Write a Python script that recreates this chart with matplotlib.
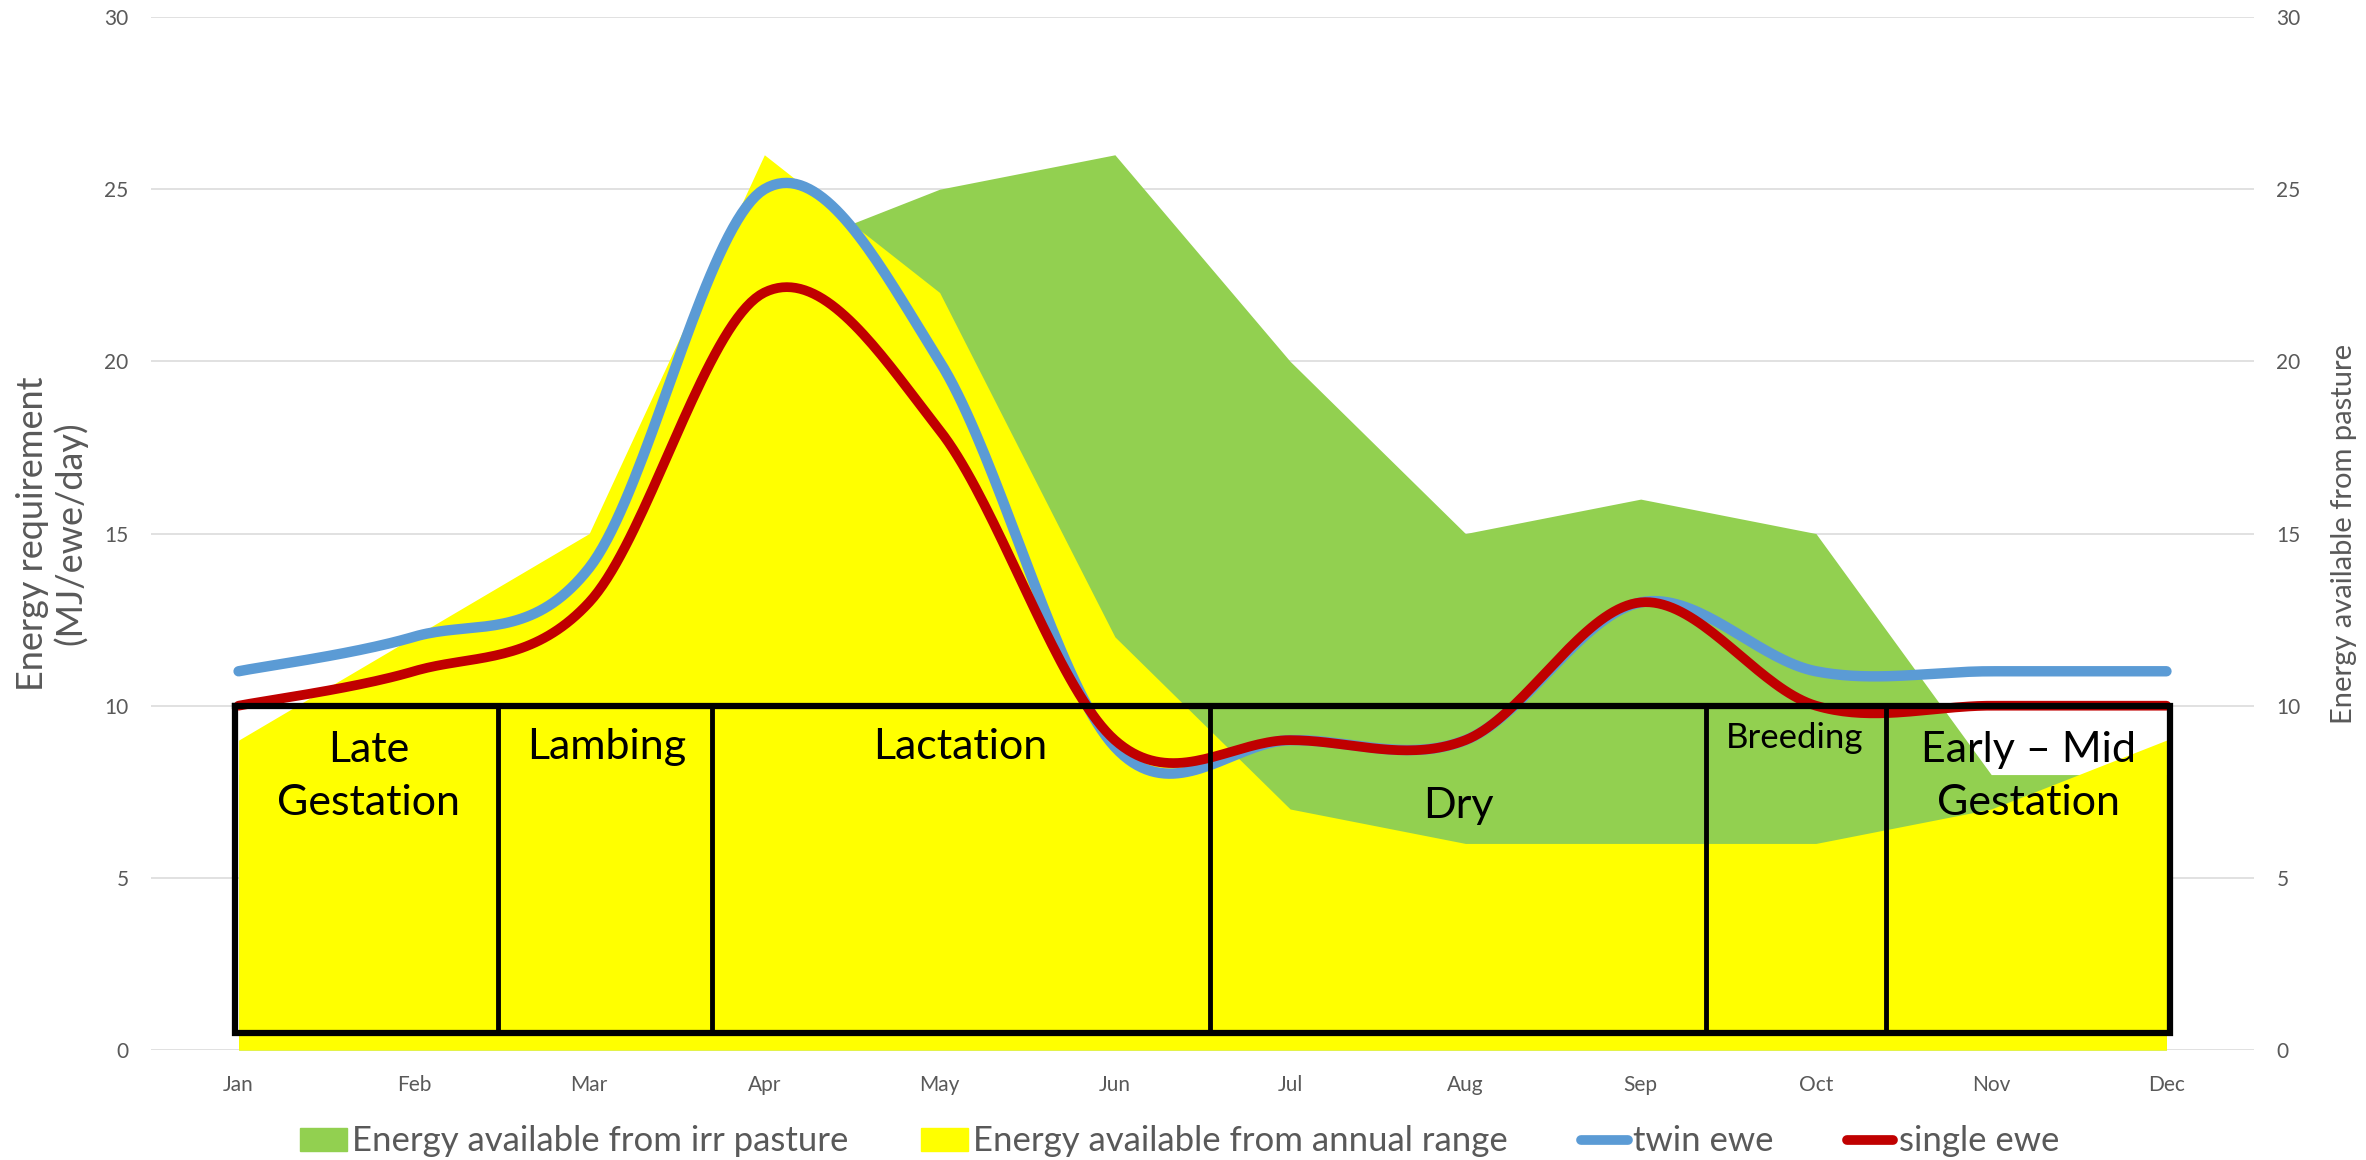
import numpy as np
import matplotlib
matplotlib.use("Agg")
import matplotlib.pyplot as plt
from matplotlib.patches import Patch
from matplotlib.lines import Line2D

plt.rcParams['font.family'] = ['Lato', 'DejaVu Sans']

months = ["Jan", "Feb", "Mar", "Apr", "May", "Jun", "Jul", "Aug", "Sep", "Oct", "Nov", "Dec"]
irr_pasture = [8, 10, 13, 23, 25, 26, 20, 15, 16, 15, 8, 8]
annual_range = [9, 12, 15, 26, 22, 12, 7, 6, 6, 6, 7, 9]
twin_ewe = [11, 12, 14, 25, 20, 8.8, 9, 9, 13, 11, 11, 11]
single_ewe = [10, 11, 13, 22, 18, 9, 9, 9, 13, 10, 10, 10]

phases = ["Late\nGestation", "Lambing", "Lactation", "Dry", "Breeding", "Early \u2013 Mid\nGestation"]
# phase borders in month units (0 = Jan)
phase_edges = [-0.02, 1.48, 2.70, 5.54, 8.37, 9.40, 11.02]

GREEN = "#92D050"
YELLOW = "#FFFF00"
BLUE = "#5B9BD5"
RED = "#C00000"
GREY = "#595959"


def smooth(y, n=40):
    # excel style smoothed line: bezier segments, catmull-rom tangents
    y = np.asarray(y, dtype=float)
    x = np.arange(len(y), dtype=float)
    xp = np.concatenate([[x[0]], x, [x[-1]]])
    yp = np.concatenate([[y[0]], y, [y[-1]]])
    t = np.linspace(0, 1, n)[:, None]
    xs, ys = [], []
    for i in range(len(y) - 1):
        p0 = np.array([x[i], y[i]])
        p3 = np.array([x[i + 1], y[i + 1]])
        p1 = p0 + (np.array([xp[i + 2], yp[i + 2]]) - np.array([xp[i], yp[i]])) / 6
        p2 = p3 - (np.array([xp[i + 3], yp[i + 3]]) - np.array([xp[i + 1], yp[i + 1]])) / 6
        pts = ((1 - t) ** 3) * p0 + 3 * ((1 - t) ** 2) * t * p1 + 3 * (1 - t) * t ** 2 * p2 + t ** 3 * p3
        xs.append(pts[:, 0])
        ys.append(pts[:, 1])
    return np.concatenate(xs), np.concatenate(ys)


fig = plt.figure(figsize=(23.66, 11.6), dpi=100)
ax = fig.add_axes([0.0638, 0.0948, 0.8889, 0.8905])
ax2 = ax.twinx()

x = np.arange(len(months))

# areas on the secondary axis, behind the lines
ax2.fill_between(x, irr_pasture, color=GREEN, lw=0, zorder=2)
ax2.fill_between(x, annual_range, color=YELLOW, lw=0, zorder=3)
ax2.set_ylim(0, 30)
ax2.set_yticks(range(0, 31, 5))
ax2.yaxis.grid(True, color="#D9D9D9", lw=1.1)
ax2.set_axisbelow(True)
ax2.set_ylabel("Energy available from pasture", fontsize=21, color=GREY, labelpad=22)

ax.set_zorder(ax2.get_zorder() + 1)
ax.patch.set_visible(False)

sx, sy = smooth(twin_ewe)
ax.plot(sx, sy, color=BLUE, lw=7.5, solid_capstyle="round", zorder=4)
sx, sy = smooth(single_ewe)
ax.plot(sx, sy, color=RED, lw=7, solid_capstyle="round", zorder=5)

# phase boxes
y_lo, y_hi = 0.5, 10
ax.plot([phase_edges[0], phase_edges[-1], phase_edges[-1], phase_edges[0], phase_edges[0]],
        [y_hi, y_hi, y_lo, y_lo, y_hi], color="black", lw=4.5, solid_joinstyle="miter", zorder=6)
for e in phase_edges[1:-1]:
    ax.plot([e, e], [y_lo, y_hi], color="black", lw=3.5, zorder=6)

label_pos = [(0.74, 7.95, 31), (2.10, 8.8, 31), (4.12, 8.8, 31),
             (6.96, 7.1, 31), (8.88, 9.05, 25), (10.21, 7.95, 31)]
for name, (px, py, fs) in zip(phases, label_pos):
    ax.text(px, py, name, ha="center", va="center", fontsize=fs, color="black",
            linespacing=1.5, zorder=7)

ax.set_xlim(-0.5, 11.5)
ax.set_ylim(0, 30)
ax.set_yticks(range(0, 31, 5))
ax.set_xticks(x)
ax.set_xticklabels(months)
ax.set_ylabel("Energy requirement\n(MJ/ewe/day)", fontsize=26, color=GREY, labelpad=12,
              linespacing=1.15)

for a in (ax, ax2):
    for s in a.spines.values():
        s.set_visible(False)
    a.tick_params(length=0, colors=GREY, labelsize=15)
ax.tick_params(axis="x", pad=18)
ax.tick_params(axis="y", pad=16)
ax2.tick_params(axis="y", pad=16)

handles = [Patch(color=GREEN), Patch(color=YELLOW),
           Line2D([], [], color=BLUE, lw=7, solid_capstyle="round"),
           Line2D([], [], color=RED, lw=7, solid_capstyle="round")]
labels = ["Energy available from irr pasture", "Energy available from annual range",
          "twin ewe", "single ewe"]
leg = fig.legend(handles, labels, loc="center", bbox_to_anchor=(0.4985, 0.016), ncol=4,
                 frameon=False, fontsize=25, handlelength=1.35, handleheight=0.65,
                 handletextpad=0.15, columnspacing=2.1, borderpad=0)
for t in leg.get_texts():
    t.set_color(GREY)

fig.savefig("out.png", dpi=100)
